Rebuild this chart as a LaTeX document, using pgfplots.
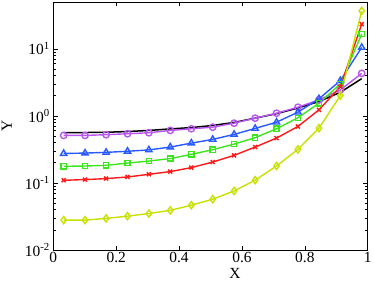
\documentclass[border=0pt]{standalone}
\usepackage{pgfplots}
\pgfplotsset{compat=1.18}
\usepackage{fontspec}
\setmainfont{Liberation Serif}
\usetikzlibrary{calc}
\definecolor{cmag}{RGB}{185,85,240}
\definecolor{cblue}{RGB}{40,90,255}
\definecolor{cgreen}{RGB}{60,230,30}
\definecolor{cred}{RGB}{255,25,25}
\definecolor{cyel}{RGB}{200,225,0}
\begin{document}
\begin{tikzpicture}
\begin{axis}[
  name=ax,
  scale only axis,
  width=314.4bp, height=248bp,
  xmin=0, xmax=1,
  ymode=log, ymin=0.01, ymax=50,
  xtick={0,0.2,0.4,0.6,0.8,1},
  xticklabels={0,0.2,0.4,0.6,0.8,1},
  ytick={0.01,0.1,1,10},
  yticklabels={{10\textsuperscript{-2}},{10\textsuperscript{-1}},{10\textsuperscript{0}},{10\textsuperscript{1}}},
  tick align=inside,
  axis line style={line width=0.9bp},
  every tick/.style={black, line width=0.6bp},
  major tick length=4.5bp, minor tick length=2.5bp,
  tick label style={font=\fontsize{15.5}{15.5}\selectfont},
  xticklabel style={yshift=1bp},
  xlabel={X}, ylabel={Y},
  label style={font=\fontsize{15.5}{15.5}\selectfont},
  xlabel style={at={(axis description cs:0.578,0)}, anchor=north, yshift=-15bp},
  ylabel style={at={(axis description cs:0,0.5)}, anchor=south, xshift=0bp, yshift=38bp},
  every axis plot/.append style={line width=1.4bp},
  clip=false,
]
\addplot[black, line width=1.5bp] coordinates {
(0.033,0.561) (0.101,0.565) (0.168,0.570) (0.236,0.585) (0.304,0.607) (0.372,0.640) (0.439,0.670) (0.507,0.720) (0.575,0.800) (0.642,0.925) (0.710,1.08) (0.778,1.31) (0.845,1.64) (0.913,2.25) (0.981,3.6)};
\addplot[cmag, mark=o, mark size=3.2bp, mark options={solid}] coordinates {
(0.033,0.512) (0.101,0.512) (0.168,0.524) (0.236,0.542) (0.304,0.561) (0.372,0.607) (0.439,0.643) (0.507,0.679) (0.575,0.779) (0.642,0.925) (0.710,1.097) (0.778,1.347) (0.845,1.734) (0.913,2.44) (0.981,4.31)};
\addplot[cblue, mark=triangle, mark size=3.6bp] coordinates {
(0.033,0.275) (0.101,0.279) (0.168,0.286) (0.236,0.297) (0.304,0.311) (0.372,0.343) (0.439,0.393) (0.507,0.446) (0.575,0.530) (0.642,0.650) (0.710,0.806) (0.778,1.135) (0.845,1.80) (0.913,3.36) (0.981,10.5)};
\addplot[cgreen, mark=square, mark size=2.6bp] coordinates {
(0.033,0.177) (0.101,0.179) (0.168,0.183) (0.236,0.198) (0.304,0.212) (0.372,0.231) (0.439,0.267) (0.507,0.313) (0.575,0.380) (0.642,0.473) (0.710,0.643) (0.778,0.937) (0.845,1.545) (0.913,3.0) (0.981,16.6)};
\addplot[cred, mark=x, mark size=2.8bp] coordinates {
(0.033,0.1096) (0.101,0.1123) (0.168,0.1162) (0.236,0.1228) (0.304,0.1347) (0.372,0.1477) (0.439,0.1694) (0.507,0.205) (0.575,0.258) (0.642,0.343) (0.710,0.467) (0.778,0.696) (0.845,1.232) (0.913,2.73) (0.981,23.4)};
\addplot[cyel, mark=diamond, mark size=3.6bp] coordinates {
(0.033,0.0279) (0.101,0.0279) (0.168,0.0296) (0.236,0.032) (0.304,0.035) (0.372,0.039) (0.439,0.0466) (0.507,0.0573) (0.575,0.076) (0.642,0.110) (0.710,0.179) (0.778,0.317) (0.845,0.656) (0.913,2.01) (0.981,36.8)};
\end{axis}
\pgfresetboundingbox
\path ($(ax.south west)+(-53.3bp,-35bp)$) rectangle ($(ax.north east)+(6.3bp,2bp)$);
\end{tikzpicture}
\end{document}
